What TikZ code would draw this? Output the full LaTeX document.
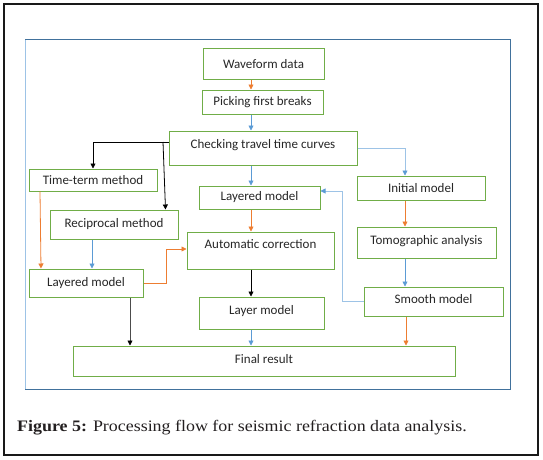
\documentclass[tikz,border=0pt]{standalone}
\usepackage{fontspec}
\setmainfont{Carlito}
\newfontfamily\capfont{Liberation Serif}
\usetikzlibrary{arrows.meta}
\definecolor{gboxc}{HTML}{70AD47}
\definecolor{orc}{HTML}{ED7D31}
\definecolor{blc}{HTML}{5B9BD5}
\definecolor{lbc}{HTML}{9DC3E6}
\definecolor{frc}{HTML}{41719C}
\definecolor{capc}{HTML}{231F20}
\begin{document}
\begin{tikzpicture}[x=1pt,y=-1pt,
  box/.style={draw=gboxc, line width=1pt, inner sep=0pt, font=\fontsize{13}{15}\selectfont, text=black!85},
  oarrow/.style={line width=0.8pt, draw=orc, -{Triangle[width=5pt,length=5pt,fill=orc]}},
  barrow/.style={line width=0.8pt, draw=blc, -{Triangle[width=5pt,length=5pt,fill=blc]}},
  lbarrow/.style={line width=0.8pt, draw=lbc, -{Triangle[width=5pt,length=5pt,color=blc,fill=blc]}},
  karrow/.style={line width=0.8pt, draw=black, -{Triangle[width=5pt,length=5pt,fill=black]}},
  garrow/.style={line width=0.8pt, draw=black!70, -{Triangle[width=5pt,length=5pt,color=black,fill=black]}}]
\useasboundingbox (0,0) rectangle (543,460);
% frames
\draw[line width=1.3pt, black!90] (4,4) rectangle (538,455);
\draw[line width=1pt, frc] (25,389) -- (510,389) -- (510,40) -- (25,40);
\draw[line width=1pt, lbc] (25,40) -- (25,389);
% helper x positions
\coordinate (x251) at (251,0);
\coordinate (x405) at (405,0);
\coordinate (x406) at (406,0);
\coordinate (x92) at (92,0);
\coordinate (x130) at (130,0);
\coordinate (kb) at (163,142);
% boxes
\node[box, minimum width=121pt, minimum height=30pt] (wave) at (263.5,64) {Waveform data};
\node[box, minimum width=121pt, minimum height=24pt] (pick) at (262.5,102) {Picking first breaks};
\node[box, minimum width=188pt, minimum height=34pt, text depth=9pt] (check) at (263,148) {Checking travel time curves};
\node[box, minimum width=128pt, minimum height=22pt] (tt) at (93,180) {Time-term method};
\node[box, minimum width=128pt, minimum height=29pt] (recip) at (114,224.5) {Reciprocal method};
\node[box, minimum width=114pt, minimum height=28pt] (layL) at (86,283) {Layered model};
\node[box, minimum width=121pt, minimum height=23pt] (layC) at (259.5,197.5) {Layered model};
\node[box, minimum width=147pt, minimum height=37pt, text depth=12pt] (auto) at (260.5,250.5) {Automatic correction};
\node[box, minimum width=125pt, minimum height=32pt, text depth=6pt] (layer) at (261.5,313) {Layer model};
\node[box, minimum width=128pt, minimum height=24pt] (init) at (421,188) {Initial model};
\node[box, minimum width=139pt, minimum height=31pt, text depth=6pt] (tomo) at (426.5,242.5) {Tomographic analysis};
\node[box, minimum width=139pt, minimum height=29pt, text depth=5pt] (smooth) at (433.5,301.5) {Smooth model};
\node[box, minimum width=382pt, minimum height=30pt, text depth=5pt] (final) at (264,361) {Final result};
% connectors
\draw[oarrow] (wave.south -| x251) -- (pick.north -| x251);
\draw[barrow] (pick.south -| x251) -- (check.north -| x251);
\draw[karrow] ([yshift=6pt]check.west) -| (tt.north);
\draw[karrow] (kb) -- ([xshift=-13pt]recip.north east);
\draw[lbarrow] (check.east) -| (init.north -| x405);
\draw[barrow] (check.south -| x251) -- (layC.north -| x251);
\draw[oarrow] ([xshift=11.5pt]tt.south west) -- ([xshift=12.5pt]layL.north west);
\draw[barrow] (recip.south -| x92) -- (layL.north -| x92);
\draw[oarrow] (layL.east) -- ++(22.5,0) |- ([yshift=1.5pt]auto.west);
\draw[oarrow] (layC.south -| x251) -- (auto.north -| x251);
\draw[karrow] (auto.south -| x251) -- (layer.north -| x251);
\draw[oarrow] (init.south -| x405) -- (tomo.north -| x405);
\draw[barrow] (tomo.south -| x405) -- (smooth.north -| x405);
\draw[lbarrow] (smooth.west) -- ++(-21,0) |- ([yshift=6.5pt]layC.east);
\draw[garrow] (layL.south -| x130) -- (final.north -| x130);
\draw[barrow] (layer.south -| x251) -- (final.north -| x251);
\draw[oarrow] (smooth.south -| x406) -- (final.north -| x406);
% caption
\node[anchor=base west, inner sep=0pt, text=capc, font=\capfont\fontsize{16}{18}\selectfont] (cap) at (17,431) {\scalebox{1.12}[1]{\textbf{Figure 5:} Processing flow for seismic refraction data analysis.}};
\end{tikzpicture}
\end{document}
